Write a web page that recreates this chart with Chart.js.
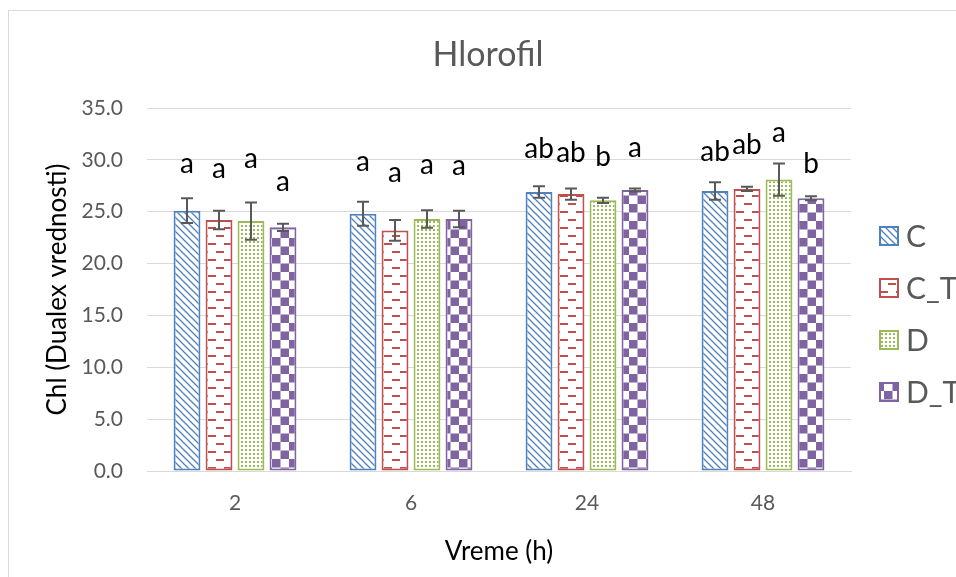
<!DOCTYPE html>
<html><head><meta charset="utf-8">
<script src="https://cdn.jsdelivr.net/npm/chart.js@4"></script>
<style>html,body{margin:0;padding:0;background:#fff;overflow:hidden}#wrap{position:relative;width:956px;height:577px}</style>
</head><body><div id="wrap"><canvas id="c" width="956" height="577"></canvas></div>
<script>
const categories = ['2', '6', '24', '48'];
const seriesNames = ['C', 'C_T', 'D', 'D_T'];
const valuesC  = [25.1, 24.8, 26.9, 27.0];
const valuesCT = [24.2, 23.2, 26.7, 27.2];
const valuesD  = [24.1, 24.3, 26.1, 28.1];
const valuesDT = [23.5, 24.3, 27.1, 26.3];
const errC  = [1.2, 1.15, 0.55, 0.85];
const errCT = [0.9, 1.0, 0.55, 0.2];
const errD  = [1.8, 0.85, 0.25, 1.55];
const errDT = [0.35, 0.8, 0.15, 0.2];
const lettersC  = ['a', 'a', 'ab', 'ab'];
const lettersCT = ['a', 'a', 'ab', 'ab'];
const lettersD  = ['a', 'a', 'b', 'a'];
const lettersDT = ['a', 'a', 'a', 'b'];
const letterAtC  = [28.7, 28.96, 30.15, 29.92];
const letterAtCT = [28.22, 27.9, 29.82, 30.57];
const letterAtD  = [29.19, 28.64, 29.44, 31.69];
const letterAtDT = [27.03, 28.54, 30.25, 28.7];
const yTicks = [0, 5, 10, 15, 20, 25, 30, 35];
const chartTitle = 'Hlorofil';
const xTitle = 'Vreme (h)';
const yTitle = 'Chl (Dualex vrednosti)';

const colors = ['#4F81BD', '#C0504D', '#9BBB59', '#8064A2'];
const FONT = 'Lato';

function makePattern(kind, color) {
  const t = document.createElement('canvas');
  const ctx = t.getContext('2d');
  if (kind === 'diag') {
    t.width = 7; t.height = 7;
    ctx.fillStyle = '#fff'; ctx.fillRect(0, 0, 7, 7);
    ctx.strokeStyle = color; ctx.lineWidth = 1.3;
    ctx.beginPath();
    ctx.moveTo(-2, -2); ctx.lineTo(9, 9);
    ctx.moveTo(-2, 5); ctx.lineTo(2, 9);
    ctx.moveTo(5, -2); ctx.lineTo(9, 2);
    ctx.stroke();
  } else if (kind === 'dash') {
    t.width = 16; t.height = 16;
    ctx.fillStyle = '#fff'; ctx.fillRect(0, 0, 16, 16);
    ctx.fillStyle = color;
    ctx.fillRect(0, 3, 8, 2);
    ctx.fillRect(8, 11, 8, 2);
  } else if (kind === 'dots') {
    t.width = 4; t.height = 4;
    ctx.fillStyle = '#fff'; ctx.fillRect(0, 0, 4, 4);
    ctx.fillStyle = color;
    ctx.fillRect(1, 1, 2, 2);
  } else {
    t.width = 17; t.height = 17;
    ctx.fillStyle = '#fff'; ctx.fillRect(0, 0, 17, 17);
    ctx.fillStyle = color;
    ctx.fillRect(0, 0, 8.5, 8.5);
    ctx.fillRect(8.5, 8.5, 8.5, 8.5);
  }
  return document.createElement('canvas').getContext('2d').createPattern(t, 'repeat');
}

const kinds = ['diag', 'dash', 'dots', 'check'];
const allValues = [valuesC, valuesCT, valuesD, valuesDT];
const allErr = [errC, errCT, errD, errDT];
const allLetters = [lettersC, lettersCT, lettersD, lettersDT];
const allLetterAt = [letterAtC, letterAtCT, letterAtD, letterAtDT];

const datasets = seriesNames.map((name, i) => ({
  label: name,
  data: allValues[i],
  backgroundColor: makePattern(kinds[i], colors[i]),
  borderColor: colors[i],
  borderWidth: 2,
  borderSkipped: false
}));

const decorPlugin = {
  id: 'decor',
  afterDatasetsDraw(chart) {
    const ctx = chart.ctx;
    const ys = chart.scales.y;
    ctx.save();
    chart.data.datasets.forEach((ds, i) => {
      const meta = chart.getDatasetMeta(i);
      meta.data.forEach((bar, j) => {
        const v = allValues[i][j], e = allErr[i][j];
        const x = bar.x;
        const yt = ys.getPixelForValue(v + e), yb = ys.getPixelForValue(v - e);
        ctx.strokeStyle = '#595959'; ctx.lineWidth = 2;
        ctx.beginPath();
        ctx.moveTo(x, yt); ctx.lineTo(x, yb);
        ctx.moveTo(x - 6, yt); ctx.lineTo(x + 6, yt);
        ctx.moveTo(x - 6, yb); ctx.lineTo(x + 6, yb);
        ctx.stroke();
        ctx.fillStyle = '#000';
        ctx.font = '28px ' + FONT;
        ctx.textAlign = 'center';
        ctx.textBaseline = 'alphabetic';
        ctx.fillText(allLetters[i][j], x, ys.getPixelForValue(allLetterAt[i][j]));
      });
    });
    ctx.restore();
  },
  afterDraw(chart) {
    const ctx = chart.ctx;
    ctx.save();
    ctx.strokeStyle = '#d9d9d9'; ctx.lineWidth = 1;
    ctx.strokeRect(8.5, 10.5, 1200, 1200);
    ctx.fillStyle = '#595959';
    ctx.font = '34px ' + FONT;
    ctx.textAlign = 'center'; ctx.textBaseline = 'alphabetic';
    ctx.fillText(chartTitle, 488, 66);
    ctx.font = '30px ' + FONT;
    ctx.textAlign = 'left'; ctx.textBaseline = 'middle';
    chart.data.datasets.forEach((ds, i) => {
      const cy = 236 + i * 52;
      ctx.fillStyle = ds.backgroundColor;
      ctx.fillRect(880, cy - 9, 18, 18);
      ctx.strokeStyle = ds.borderColor; ctx.lineWidth = 2;
      ctx.strokeRect(880, cy - 9, 18, 18);
      ctx.fillStyle = '#595959';
      ctx.fillText(ds.label, 906, cy + 1);
    });
    ctx.restore();
  }
};

new Chart(document.getElementById('c'), {
  type: 'bar',
  data: { labels: categories, datasets },
  options: {
    responsive: false,
    animation: false,
    layout: { padding: { top: 108, right: 105, left: 0, bottom: 0 } },
    datasets: { bar: { categoryPercentage: 0.727, barPercentage: 0.84 } },
    plugins: { legend: { display: false }, title: { display: false }, tooltip: { enabled: false } },
    scales: {
      x: {
        grid: { display: false, drawTicks: false },
        border: { color: '#d9d9d9', width: 1 },
        ticks: { color: '#595959', font: { family: FONT, size: 21 }, padding: 20 },
        title: { display: true, text: xTitle, color: '#000', font: { family: FONT, size: 26 }, padding: { top: 0, bottom: 10 } },
        afterFit(s) { s.height = 106; }
      },
      y: {
        min: 0, max: 35,
        afterBuildTicks(s) { s.ticks = yTicks.map(v => ({ value: v })); },
        grid: { color: '#d9d9d9', drawTicks: false },
        border: { display: false },
        ticks: { color: '#595959', font: { family: FONT, size: 21 }, padding: 24, callback: v => Number(v).toFixed(1) },
        title: { display: true, text: yTitle, color: '#000', font: { family: FONT, size: 26 }, padding: { top: 42, bottom: 0 } },
        afterFit(s) { s.width = 147; }
      }
    }
  },
  plugins: [decorPlugin]
});
</script>
</body></html>
